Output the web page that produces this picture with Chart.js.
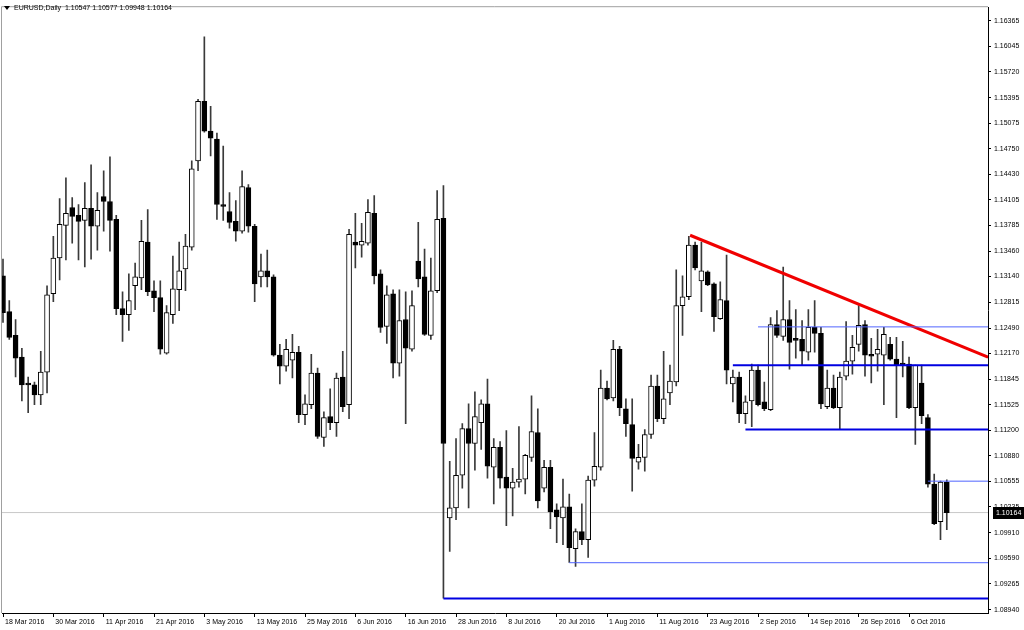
<!DOCTYPE html>
<html>
<head>
<meta charset="utf-8">
<script src="https://cdn.jsdelivr.net/npm/chart.js@4.4.0/dist/chart.umd.min.js"></script>
<style>
  body { margin: 0; background: #fff; }
  #wrap { width: 1024px; height: 630px; }
</style>
</head>
<body>
<div id="wrap"><canvas id="chart" width="1024" height="630"></canvas></div>
<script>
// EURUSD daily bars, 18 Mar 2016 .. 14 Oct 2016, one entry per trading day
const opens = [1.13148,1.12698,1.12398,1.12123,1.11798,1.11773,1.11648,1.11935,1.12923,1.13373,
  1.13785,1.1401,1.1391,1.13848,1.13998,1.13773,1.14148,1.14085,1.1386,1.12735,
  1.1266,1.13023,1.13123,1.13573,1.1296,1.12873,1.12173,1.1266,1.12973,1.13235,
  1.1351,1.14598,1.15348,1.14973,1.14873,1.14048,1.1396,1.13835,1.1371,1.1426,
  1.13773,1.13135,1.1321,1.13135,1.12148,1.1201,1.12085,1.12185,1.11398,1.11523,
  1.11923,1.1111,1.11373,1.11298,1.11873,1.11523,1.13573,1.13535,1.1356,1.13935,
  1.13173,1.1251,1.12923,1.12048,1.12598,1.12223,1.13335,1.13135,1.12398,1.1296,
  1.13873,1.10098,1.10223,1.10635,1.11223,1.11035,1.11298,1.11535,1.10735,1.10985,
  1.1061,1.10473,1.10548,1.10585,1.1086,1.11173,1.10473,1.10735,1.10198,1.10098,
  1.10235,1.0971,1.09923,1.09823,1.10573,1.10735,1.11735,1.1161,1.12223,1.11473,
  1.11273,1.10798,1.1086,1.11148,1.1176,1.11348,1.11673,1.1181,1.12773,1.12885,
  1.13535,1.13085,1.13198,1.13048,1.1261,1.12835,1.11785,1.11873,1.1141,1.11573,
  1.1196,1.1156,1.1146,1.12535,1.12385,1.12598,1.1236,1.12348,1.12185,1.12498,
  1.12423,1.11498,1.11735,1.11485,1.11885,1.12073,1.12285,1.12535,1.1216,1.1216,
  1.12148,1.12285,1.12098,1.12048,1.12035,1.11485,1.11798,1.1136,1.10523,1.10048,
  1.10547];
const highs = [1.1336,1.12835,1.12598,1.12235,1.11873,1.1181,1.12198,1.13023,1.13648,1.14123,
  1.14385,1.14135,1.14048,1.14323,1.14548,1.14198,1.14473,1.14648,1.1391,1.12948,
  1.13173,1.1331,1.13848,1.13985,1.13085,1.13085,1.12773,1.13398,1.13573,1.13673,
  1.14598,1.15373,1.1616,1.15285,1.14948,1.14785,1.14198,1.14098,1.14473,1.14298,
  1.13798,1.13423,1.13473,1.1316,1.12285,1.12348,1.1241,1.1226,1.11648,1.1216,
  1.11985,1.11435,1.11723,1.11923,1.12198,1.13735,1.13935,1.1381,1.1411,1.1416,
  1.13223,1.13023,1.12973,1.12973,1.12948,1.1296,1.13823,1.13485,1.13373,1.14223,
  1.14285,1.1081,1.11098,1.11285,1.11535,1.11685,1.11585,1.11848,1.11098,1.1106,
  1.11198,1.10723,1.11248,1.10898,1.11635,1.11473,1.10823,1.10823,1.10273,1.10585,
  1.10398,1.0996,1.10273,1.10623,1.11173,1.1196,1.11823,1.12335,1.1226,1.11598,
  1.11598,1.11023,1.1121,1.11898,1.11898,1.12198,1.12023,1.13223,1.13148,1.13648,
  1.13573,1.13573,1.1321,1.1306,1.13073,1.1341,1.1196,1.11935,1.11635,1.12035,
  1.12023,1.1181,1.12623,1.1271,1.1326,1.12835,1.12723,1.12585,1.12723,1.12835,
  1.12498,1.1196,1.11898,1.11935,1.12573,1.12398,1.12773,1.12585,1.1236,1.12473,
  1.12498,1.12373,1.12373,1.12323,1.12123,1.12023,1.12023,1.11398,1.10648,1.1056,
  1.10577];
const lows = [1.1256,1.12348,1.11873,1.11573,1.11423,1.11523,1.11523,1.11673,1.12823,1.13098,
  1.13348,1.1356,1.13348,1.1326,1.1336,1.13473,1.1371,1.1346,1.1266,1.12323,
  1.1246,1.12723,1.12973,1.12898,1.12698,1.1216,1.1216,1.12548,1.1271,1.1296,
  1.13473,1.14473,1.1496,1.1466,1.1386,1.13848,1.13748,1.13585,1.13685,1.13698,
  1.12823,1.1301,1.1301,1.12135,1.11785,1.11948,1.1186,1.11298,1.11273,1.11473,
  1.11098,1.10998,1.1121,1.11123,1.11435,1.11348,1.13248,1.13385,1.13535,1.13048,
  1.12435,1.12298,1.1186,1.11885,1.11285,1.12198,1.1301,1.12398,1.12348,1.12935,
  1.09085,1.09673,1.10073,1.10473,1.10223,1.10698,1.1096,1.10598,1.10273,1.10473,
  1.09998,1.10123,1.10485,1.10398,1.1081,1.10223,1.10423,1.0996,1.09785,1.0976,
  1.09535,1.09485,1.0976,1.09598,1.10498,1.10698,1.11585,1.11573,1.11385,1.11123,
  1.10435,1.1071,1.10685,1.11098,1.1131,1.11285,1.11523,1.1176,1.12398,1.12848,
  1.13223,1.12698,1.13023,1.12448,1.12598,1.11785,1.1156,1.11298,1.11285,1.11248,
  1.1151,1.11448,1.11448,1.12373,1.12335,1.11973,1.1211,1.12023,1.12085,1.12185,
  1.11473,1.11473,1.11473,1.11223,1.11835,1.1191,1.12198,1.11885,1.11798,1.11948,
  1.11523,1.12085,1.1136,1.11873,1.11473,1.11023,1.11285,1.10485,1.1001,1.09823,
  1.09948];
const closes = [1.12685,1.12373,1.1211,1.11773,1.11773,1.11648,1.11935,1.1291,1.13373,1.13798,
  1.13935,1.13898,1.13835,1.13998,1.13773,1.13973,1.14085,1.13848,1.12735,1.1266,
  1.12835,1.13135,1.13585,1.12948,1.12873,1.12223,1.12685,1.12985,1.1321,1.13523,
  1.14498,1.15348,1.14973,1.14885,1.14048,1.14023,1.13823,1.1371,1.14273,1.13773,
  1.13048,1.1321,1.13135,1.12148,1.1201,1.12223,1.12185,1.11398,1.11535,1.11923,
  1.11123,1.1136,1.11298,1.1186,1.11498,1.13673,1.13535,1.13585,1.13948,1.13148,
  1.12498,1.1291,1.12048,1.12585,1.12235,1.12773,1.1311,1.1241,1.1296,1.1386,
  1.11035,1.10223,1.10635,1.11223,1.11035,1.11373,1.11535,1.10748,1.10985,1.10598,
  1.10473,1.10548,1.10585,1.10885,1.11185,1.1031,1.10735,1.10173,1.1011,1.10235,
  1.09723,1.09923,1.09823,1.10573,1.10748,1.11735,1.11598,1.12223,1.11485,1.11285,
  1.10848,1.1086,1.11148,1.1176,1.11348,1.11598,1.11823,1.12773,1.12885,1.13535,
  1.13248,1.1321,1.13035,1.12635,1.12848,1.1196,1.11873,1.1141,1.1156,1.1196,
  1.11523,1.11473,1.12535,1.12398,1.12598,1.1231,1.12335,1.12198,1.12498,1.12423,
  1.11535,1.11735,1.11485,1.11873,1.12073,1.12248,1.12523,1.12148,1.12135,1.12223,
  1.1241,1.12098,1.12023,1.12023,1.11485,1.12023,1.11385,1.10523,1.10023,1.10548,
  1.10164];

const dateLabels = ['18 Mar 2016','30 Mar 2016','11 Apr 2016','21 Apr 2016','3 May 2016','13 May 2016',
  '25 May 2016','6 Jun 2016','16 Jun 2016','28 Jun 2016','8 Jul 2016','20 Jul 2016','1 Aug 2016',
  '11 Aug 2016','23 Aug 2016','2 Sep 2016','14 Sep 2016','26 Sep 2016','6 Oct 2016'];
const dateIdx = [0,8,16,24,32,40,48,56,64,72,80,88,96,104,112,120,128,136,144];
const priceTicks = [1.16365,1.16045,1.15720,1.15395,1.15075,1.14750,1.14430,1.14105,1.13785,1.13460,
  1.13140,1.12815,1.12490,1.12170,1.11845,1.11525,1.11200,1.10880,1.10555,1.10235,
  1.09910,1.09590,1.09265,1.08940];

// drawn objects: trend line (bar index, price) and horizontal levels
const trendX = [109.2, 156.55];
const trendY = [1.1366, 1.12123];
const levelPrice = [1.12505, 1.12020, 1.11210, 1.10560, 1.09532, 1.09082];
const levelFrom = [120, 116, 118, 147, 90, 70];
const levelThick = [false, true, true, false, false, true];

const XMIN = -0.159, XMAX = 156.55;
const FONT = '"Liberation Sans", Arial, sans-serif';

const n = closes.length;
const bull = closes.map((c, i) => c >= opens[i]);

const datasets = [];
levelPrice.forEach((p, k) => {
  datasets.push({
    type: 'line', order: 0,
    data: [{x: levelFrom[k], y: p}, {x: XMAX, y: p}],
    borderColor: levelThick[k] ? 'rgb(0,0,225)' : 'rgb(80,100,255)',
    borderWidth: levelThick[k] ? 2 : 1,
    pointRadius: 0
  });
});
datasets.push({
  type: 'line', order: 0,
  data: trendX.map((x, k) => ({x: x, y: trendY[k]})),
  borderColor: 'rgb(240,0,0)', borderWidth: 3, pointRadius: 0
});
datasets.push({
  type: 'bar', order: 1, grouped: false,
  data: opens.map((o, i) => ({x: i, y: [o, closes[i]]})),
  backgroundColor: bull.map(b => b ? '#ffffff' : '#000000'),
  borderColor: '#000000', borderWidth: 1, borderSkipped: false,
  barThickness: 5, minBarLength: 1
});
datasets.push({
  type: 'bar', order: 2, grouped: false,
  data: lows.map((l, i) => ({x: i, y: [l, highs[i]]})),
  backgroundColor: '#3a3a3a', borderWidth: 0, barThickness: 1
});
datasets.push({
  type: 'line', order: 3,
  data: [{x: XMIN, y: closes[n - 1]}, {x: XMAX, y: closes[n - 1]}],
  borderColor: '#c8c8c8', borderWidth: 1, pointRadius: 0
});

const decorPlugin = {
  id: 'decor',
  afterDraw(chart) {
    const {ctx, chartArea: a, scales: {y}} = chart;
    ctx.save();
    ctx.strokeStyle = '#a0a0a0';
    ctx.lineWidth = 1;
    ctx.beginPath();
    ctx.moveTo(a.left - 0.5, a.bottom);
    ctx.lineTo(a.left - 0.5, a.top - 0.5);
    ctx.lineTo(a.right, a.top - 0.5);
    ctx.stroke();

    // symbol header
    ctx.fillStyle = '#000';
    ctx.beginPath();
    ctx.moveTo(4, 6); ctx.lineTo(10, 6); ctx.lineTo(7, 10); ctx.closePath();
    ctx.fill();
    ctx.font = '7px ' + FONT;
    ctx.textBaseline = 'middle';
    const last = n - 1;
    const txt = 'EURUSD,Daily  ' + [opens[last], highs[last], lows[last], closes[last]]
      .map(v => v.toFixed(5)).join(' ');
    ctx.fillText(txt, 14, 8);

    // last price marker on the axis
    const py = Math.round(y.getPixelForValue(closes[last]));
    ctx.fillStyle = '#000';
    ctx.fillRect(a.right + 5, py - 6, 34, 12);
    ctx.fillStyle = '#fff';
    ctx.fillText(closes[last].toFixed(5), a.right + 8, py);
    ctx.restore();
  }
};

new Chart(document.getElementById('chart'), {
  data: { datasets: datasets },
  options: {
    responsive: false,
    animation: false,
    layout: { padding: { left: 2, top: 2, right: 0, bottom: 0 } },
    plugins: { legend: { display: false }, tooltip: { enabled: false } },
    scales: {
      x: {
        type: 'linear', position: 'bottom', offset: false,
        min: XMIN, max: XMAX,
        afterBuildTicks: s => { s.ticks = dateIdx.map(v => ({ value: v })); },
        afterFit: s => { s.height = 17; },
        grid: { drawOnChartArea: false, offset: false, color: '#000', tickLength: 4 },
        border: { color: '#000' },
        ticks: {
          align: 'start', labelOffset: 2, padding: 1, maxRotation: 0, autoSkip: false,
          color: '#000', font: { family: FONT, size: 7 },
          callback: v => dateLabels[dateIdx.indexOf(v)]
        }
      },
      y: {
        type: 'linear', position: 'right',
        min: 1.08898, max: 1.16535,
        afterBuildTicks: s => { s.ticks = priceTicks.map(v => ({ value: v })); },
        afterFit: s => { s.width = 36; },
        grid: { drawOnChartArea: false, color: '#000', tickLength: 3 },
        border: { color: '#000' },
        ticks: {
          padding: 3, color: '#000', font: { family: FONT, size: 7 },
          callback: v => v.toFixed(5)
        }
      }
    }
  },
  plugins: [decorPlugin]
});
</script>
</body>
</html>
